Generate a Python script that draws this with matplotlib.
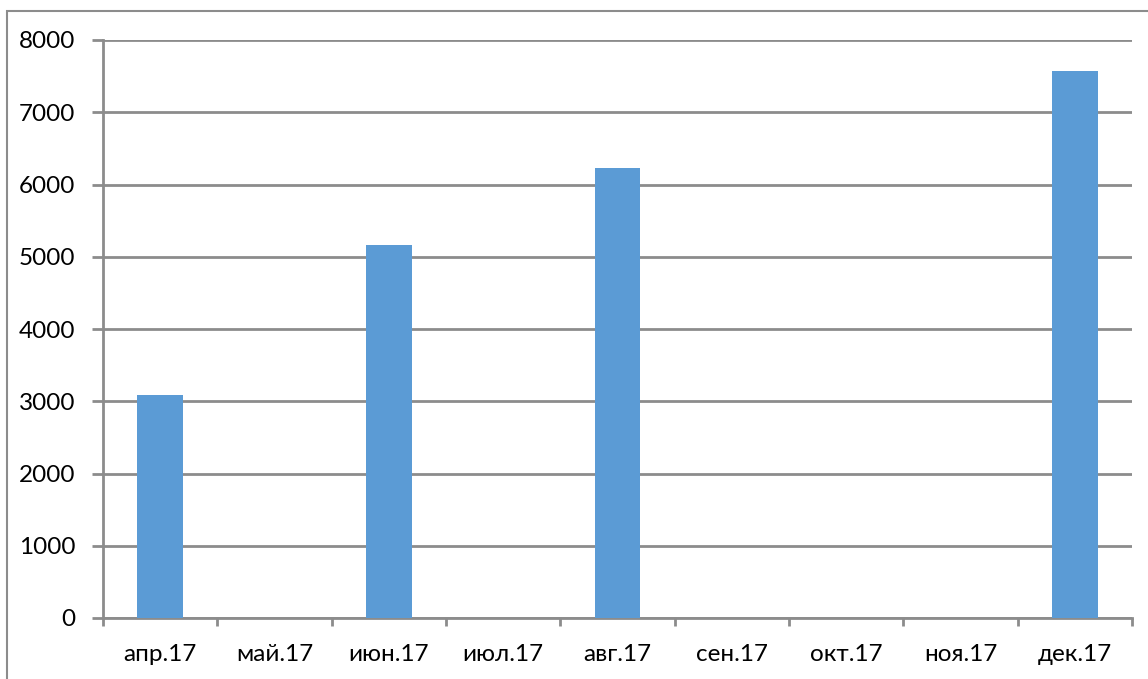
import matplotlib.pyplot as plt
from matplotlib.patches import Rectangle
import numpy as np

plt.rcParams['font.family'] = ['Lato', 'DejaVu Sans']

# data
months = ['апр.17', 'май.17', 'июн.17', 'июл.17', 'авг.17',
          'сен.17', 'окт.17', 'ноя.17', 'дек.17']
values = [3090, 0, 5160, 0, 6230, 0, 0, 0, 7570]
y_ticks = [0, 1000, 2000, 3000, 4000, 5000, 6000, 7000, 8000]

grey = '#8c8c8c'

fig = plt.figure(figsize=(11.48, 6.79), dpi=100)
ax = fig.add_axes([103 / 1148, 61 / 679, 1029 / 1148, 578 / 679])

x = np.arange(len(months))
ax.bar(x, values, width=0.4, color='#5b9bd5', zorder=3)

ax.set_xlim(-0.5, len(months) - 0.5)
ax.set_ylim(0, 8000)

# gridlines
ax.set_yticks(y_ticks)
ax.yaxis.grid(True, color=grey, linewidth=2, zorder=0)
ax.set_axisbelow(True)

# category labels in the middle, tick marks at the boundaries
ax.set_xticks(x)
ax.set_xticklabels(months)
ax.set_xticks(np.arange(-0.5, len(months)), minor=True)
ax.tick_params(axis='x', which='major', length=0, pad=19, labelsize=17.5)
ax.tick_params(axis='x', which='minor', length=6, width=2, color=grey)
ax.tick_params(axis='y', length=8, width=2, color=grey, pad=12, labelsize=17.5)

for side in ['top', 'right']:
    ax.spines[side].set_visible(False)
for side in ['left', 'bottom']:
    ax.spines[side].set_color(grey)
    ax.spines[side].set_linewidth(2)

# outer chart border
fig.patches.append(Rectangle((7 / 1148, -0.1), 1.2, 1.1 - 11 / 679,
                             transform=fig.transFigure, fill=False,
                             edgecolor=grey, linewidth=1.5))

fig.savefig('out.png', dpi=100)
